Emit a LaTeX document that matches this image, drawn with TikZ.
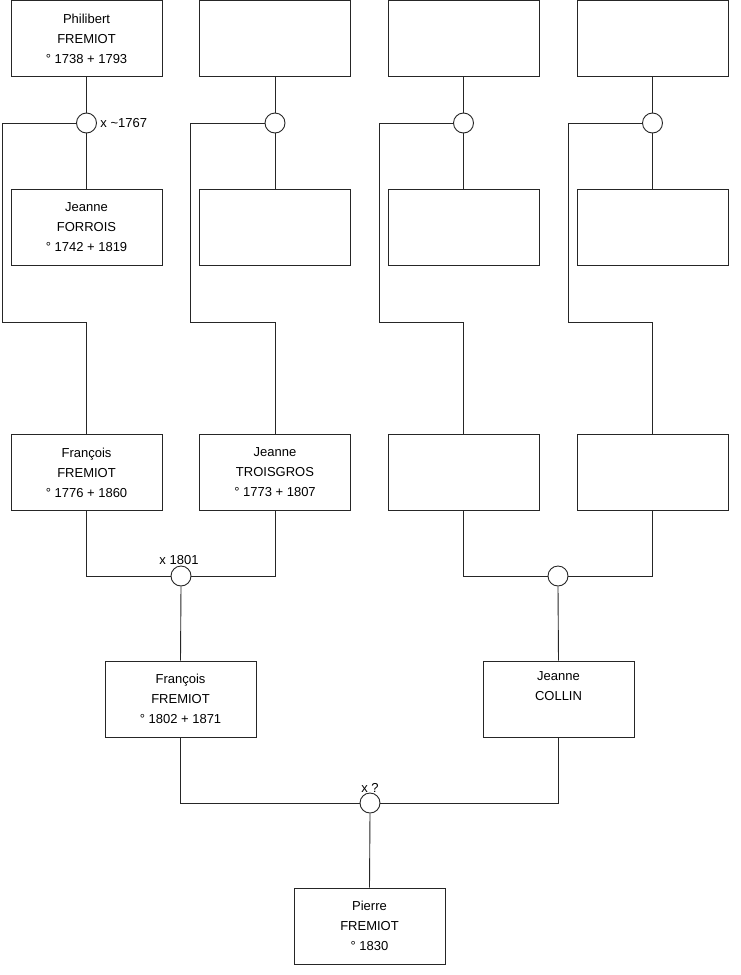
\documentclass[tikz,border=0pt]{standalone}
\usepackage{fontspec}
\setmainfont{Liberation Sans}
\begin{document}
\begin{tikzpicture}[x=1pt,y=-1pt,
  line width=0.9pt, draw=black!85,
  pbox/.style={draw=black!85, fill=white, minimum width=151pt, minimum height=76pt, inner sep=0pt, align=center, font=\fontsize{13}{20}\selectfont},
  mcirc/.style={draw=black!85, fill=white, circle, minimum size=20pt, inner sep=0pt},
  lbl/.style={font=\fontsize{13}{15}\selectfont, inner sep=1pt}]
\useasboundingbox (0,0) rectangle (740,975);
% row 1
\node[pbox] (b1) at (86.5,38.5) {Philibert\\FREMIOT\\° 1738 + 1793};
\node[pbox] (b2) at (275,38.5) {};
\node[pbox] (b3) at (463.5,38.5) {};
\node[pbox] (b4) at (652.5,38.5) {};
% circles
\node[mcirc] (c1) at (86.5,123) {};
\node[mcirc] (c2) at (275,123) {};
\node[mcirc] (c3) at (463.5,123) {};
\node[mcirc] (c4) at (652.5,123) {};
% row 2
\node[pbox] (b5) at (86.5,227) {Jeanne\\FORROIS\\° 1742 + 1819};
\node[pbox] (b6) at (275,227) {};
\node[pbox] (b7) at (463.5,227) {};
\node[pbox] (b8) at (652.5,227) {};
% row 3
\node[pbox] (b9) at (86.5,472.5) {François\\FREMIOT\\° 1776 + 1860};
\node[pbox] (b10) at (275,472.5) {Jeanne\\TROISGROS\\° 1773 + 1807};
\node[pbox] (b11) at (463.5,472.5) {};
\node[pbox] (b12) at (652.5,472.5) {};
% marriages row 3
\node[mcirc] (m1) at (181,576) {};
\node[mcirc] (m2) at (558,576) {};
% row 4
\node[pbox] (b13) at (180.5,699) {François\\FREMIOT\\° 1802 + 1871};
\node[pbox] (b14) at (558.5,699) {Jeanne\\COLLIN\\\strut};
\node[mcirc] (m3) at (370,803) {};
\node[pbox] (b15) at (369.5,926) {Pierre\\FREMIOT\\° 1830};
% coordinates for the left branches
\coordinate (k1) at (2,322);
\coordinate (k2) at (190,322);
\coordinate (k3) at (379,322);
\coordinate (k4) at (568,322);
% connectors top
\foreach \c/\t/\b/\k/\r in {c1/b1/b5/k1/b9, c2/b2/b6/k2/b10, c3/b3/b7/k3/b11, c4/b4/b8/k4/b12}{
  \draw (\t.south) -- (\c.north);
  \draw (\c.south) -- (\b.north);
  \draw (\c.west) -| (\k) -| (\r.north);
}
% marriages
\draw (b9.south) |- (m1.west);
\draw (b10.south) |- (m1.east);
\draw (m1.south) -- (b13.north);
\draw (b11.south) |- (m2.west);
\draw (b12.south) |- (m2.east);
\draw (m2.south) -- (b14.north);
\draw (b13.south) |- (m3.west);
\draw (b14.south) |- (m3.east);
\draw (m3.south) -- (b15.north);
% labels
\node[lbl, anchor=west] (l1) at ([xshift=2pt]c1.east) {x \textasciitilde1767};
\node[lbl, anchor=south] (l2) at ([xshift=-2pt,yshift=-1pt]m1.north) {x 1801};
\node[lbl, anchor=south] (l3) at ([yshift=-1pt]m3.north) {x ?};
\end{tikzpicture}
\end{document}
